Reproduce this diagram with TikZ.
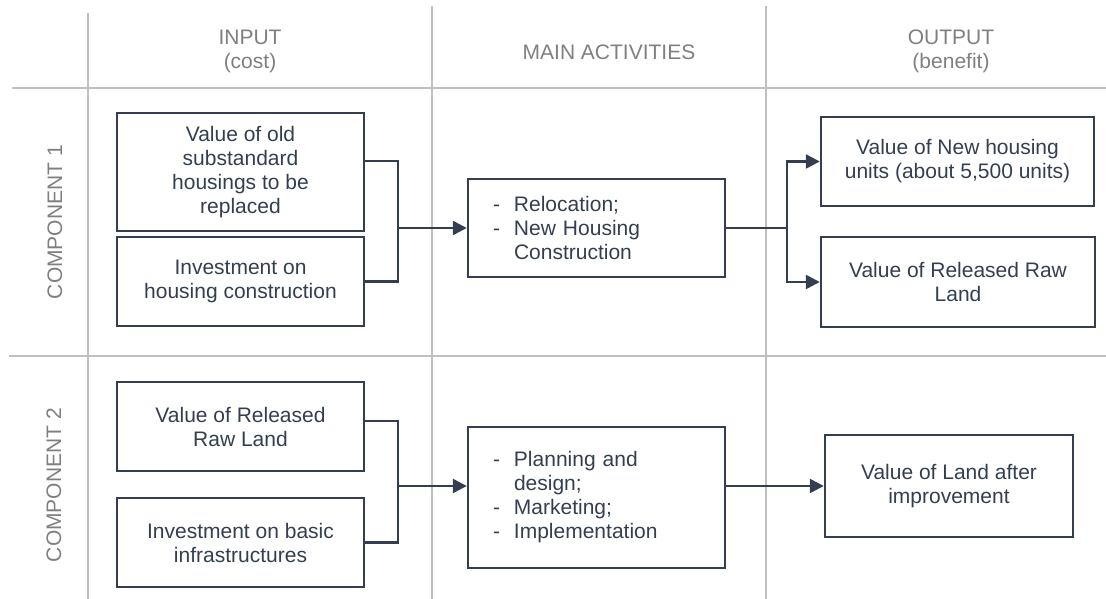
\documentclass[tikz,border=0pt]{standalone}
\usepackage{fontspec}
\setmainfont{Liberation Sans}
\usetikzlibrary{arrows.meta}
\definecolor{boxc}{HTML}{333F50}
\definecolor{gridc}{HTML}{BFBFBF}
\definecolor{hdrc}{HTML}{7F7F7F}
\begin{document}
\begin{tikzpicture}[x=1pt,y=-1pt,
  box/.style={draw=boxc,line width=2.4pt,inner sep=0pt,align=center,text=boxc,font=\fontsize{21}{24}\selectfont},
  lbox/.style={box,align=left,text width=207pt},
  gridline/.style={draw=gridc,line width=1.6pt},
  hdr/.style={text=hdrc,align=center,inner sep=0pt,font=\fontsize{21}{24}\selectfont},
  conn/.style={draw=boxc,line width=2.4pt},
  arr/.style={conn,-{Triangle[length=14pt,width=14pt]}},
]
\useasboundingbox (0,0) rectangle (1106,599);
% grid
\draw[gridline] (88,13) -- (88,599);
\draw[gridline] (432,6) -- (432,599);
\draw[gridline] (766,6) -- (766,599);
\draw[gridline] (12,88) -- (1106,88);
\draw[gridline] (9,356) -- (1106,356);
% headers
\node[hdr] (hin) at (250,51) {INPUT\\(cost)};
\node[hdr] (hma) at (609,52) {MAIN ACTIVITIES};
\node[hdr] (hout) at (951,51) {OUTPUT\\(benefit)};
\node[hdr,rotate=90] (c1) at (55,222) {COMPONENT 1};
\node[hdr,rotate=90] (c2) at (54,485) {COMPONENT 2};
% component 1
\node[box,minimum width=247pt,minimum height=118pt] (a1) at (240.5,172) {Value of old\\substandard\\housings to be\\replaced};
\node[box,minimum width=247pt,minimum height=89pt] (a2) at (240.5,281.5) {Investment on\\housing construction};
\node[lbox,minimum width=257pt,minimum height=98pt] (m1) at (596.5,228) {\makebox[21pt][l]{-}Relocation;\\\makebox[21pt][l]{-}New Housing\\\hspace*{21pt}Construction};
\node[box,minimum width=273pt,minimum height=89pt] (o1) at (957.5,161.5) {Value of New housing\\units (about 5,500 units)};
\node[box,minimum width=274pt,minimum height=90pt] (o2) at (958,282) {Value of Released Raw\\Land};
% component 2
\node[box,minimum width=247pt,minimum height=89pt] (b1) at (240.5,426.5) {Value of Released\\Raw Land};
\node[box,minimum width=247pt,minimum height=89pt] (b2) at (240.5,542.5) {Investment on basic\\infrastructures};
\node[lbox,minimum width=257pt,minimum height=141pt] (m2) at (596.5,497.5) {\makebox[21pt][l]{-}Planning and\\\hspace*{21pt}design;\\\makebox[21pt][l]{-}Marketing;\\\makebox[21pt][l]{-}Implementation};
\node[box,minimum width=248pt,minimum height=102pt] (o3) at (949,486) {Value of Land after\\improvement};
% connectors
\coordinate (j1) at (398,228);
\draw[conn] ([yshift=11pt]a1.east) -| (j1);
\draw[conn] (a2.east) -| (j1);
\draw[arr] (j1) -- (m1.west);
\coordinate (j2) at (787,228);
\draw[conn] (m1.east) -- (j2);
\draw[arr] (j2) |- (o1.west);
\draw[arr] (j2) |- (o2.west);
\coordinate (j3) at (398,486);
\draw[conn] ([yshift=5.5pt]b1.east) -| (j3);
\draw[conn] (b2.east) -| (j3);
\draw[arr] (j3) -- ([yshift=11.5pt]m2.west);
\draw[arr] ([yshift=11.5pt]m2.east) -- (o3.west);
\end{tikzpicture}
\end{document}
